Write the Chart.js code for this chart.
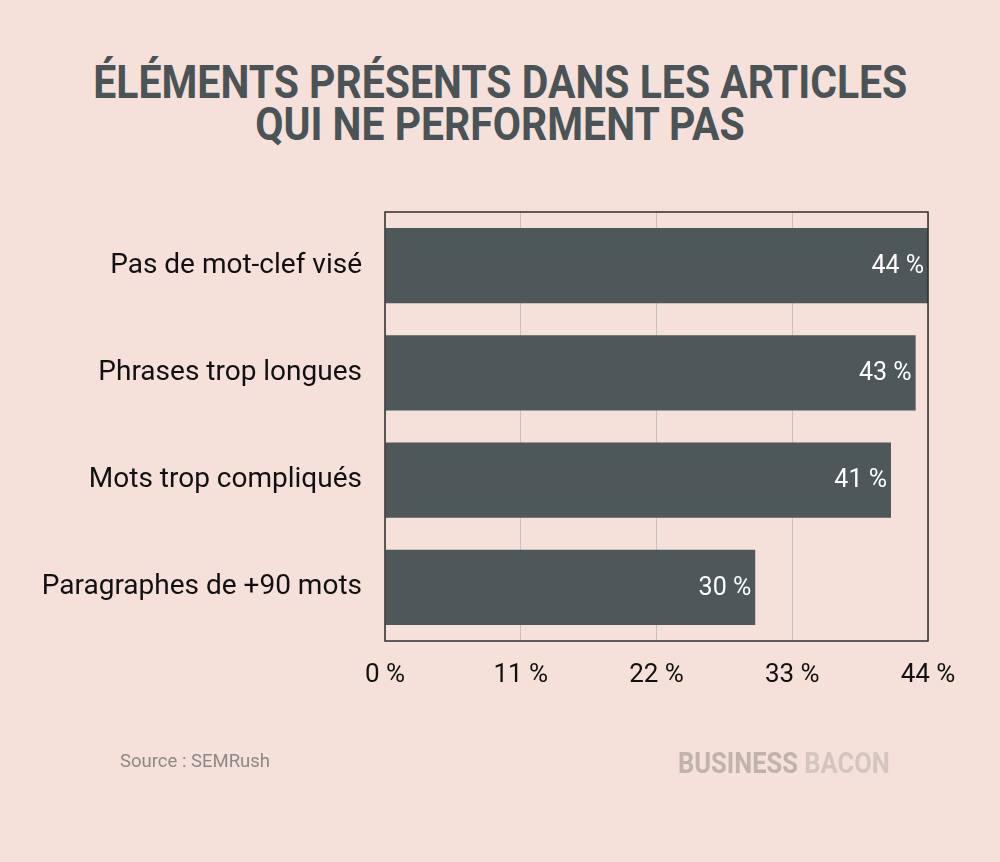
<!DOCTYPE html>
<html>
<head>
<meta charset="utf-8">
<script src="https://cdn.jsdelivr.net/npm/chart.js@4"></script>
<style>
    html, body { margin: 0; padding: 0; background: #F5E1DA; }
    #wrap { position: relative; width: 1000px; height: 862px; overflow: hidden; }
    #chart { position: absolute; left: 0; top: 0; }
    .title {
        position: absolute; left: 0; width: 1000px; text-align: center;
        font-family: Roboto, sans-serif; font-weight: 700; font-size: 46px;
        color: #4A5356; line-height: 1; white-space: nowrap;
    }
    .title span { display: inline-block; transform: scaleX(0.89); }
    .source {
        position: absolute; left: 120px; top: 750px;
        font-family: Roboto, sans-serif; font-size: 18.5px; color: #8C8986;
    }
    .brand {
        position: absolute; left: 678px; top: 745px;
        font-family: Roboto, sans-serif; font-weight: 700; font-size: 30px;
        white-space: nowrap; transform: scaleX(0.85); transform-origin: left top;
    }
</style>
</head>
<body>
<div id="wrap">
    <div class="title" style="top:59px"><span>ÉLÉMENTS PRÉSENTS DANS LES ARTICLES</span></div>
    <div class="title" style="top:101px"><span>QUI NE PERFORMENT PAS</span></div>
    <canvas id="chart" width="1000" height="862"></canvas>
    <div class="source">Source : SEMRush</div>
    <div class="brand"><span style="color:#C0B3AC">BUSINESS</span> <span style="color:#D4C6BF">BACON</span></div>
</div>
<script>
const categories = ['Pas de mot-clef visé', 'Phrases trop longues', 'Mots trop compliqués', 'Paragraphes de +90 mots'];
const values = [44, 43, 41, 30];
const tickValues = [0, 11, 22, 33, 44];

// valeurs blanches au bout des barres
const barLabels = {
    id: 'barLabels',
    afterDatasetsDraw(chart) {
        const ctx = chart.ctx;
        const meta = chart.getDatasetMeta(0);
        ctx.save();
        ctx.fillStyle = '#FFFFFF';
        ctx.font = '25px Roboto';
        ctx.textAlign = 'right';
        ctx.textBaseline = 'middle';
        meta.data.forEach(function (bar, i) {
            ctx.fillText(values[i] + ' %', bar.x - 4, bar.y + 1);
        });
        ctx.restore();
    }
};

// cadre autour de la zone du graphique
const frame = {
    id: 'frame',
    afterDraw(chart) {
        const a = chart.chartArea;
        const ctx = chart.ctx;
        ctx.save();
        ctx.strokeStyle = '#2E2E2E';
        ctx.lineWidth = 1.5;
        ctx.strokeRect(a.left, a.top, a.right - a.left, a.bottom - a.top);
        ctx.restore();
    }
};

new Chart(document.getElementById('chart'), {
    type: 'bar',
    plugins: [barLabels, frame],
    data: {
        labels: categories,
        datasets: [{
            data: values,
            backgroundColor: '#4E5759',
            barPercentage: 0.7,
            categoryPercentage: 1
        }]
    },
    options: {
        indexAxis: 'y',
        responsive: false,
        animation: false,
        layout: {
            padding: { top: 212, right: 72, bottom: 161, left: 0 }
        },
        plugins: {
            legend: { display: false },
            tooltip: { enabled: false }
        },
        scales: {
            x: {
                min: 0,
                max: 44,
                afterBuildTicks: function (scale) {
                    scale.ticks = tickValues.map(function (v) { return { value: v }; });
                },
                afterFit: function (scale) { scale.height = 60; },
                grid: { color: '#C9C1BD', lineWidth: 1, drawTicks: false },
                border: { display: false },
                ticks: {
                    padding: 19,
                    color: '#111111',
                    font: { family: 'Roboto', size: 26 },
                    callback: function (v) { return v + ' %'; }
                }
            },
            y: {
                afterFit: function (scale) { scale.width = 385; },
                grid: { display: false },
                border: { display: false },
                ticks: {
                    padding: 15,
                    color: '#111111',
                    font: { family: 'Roboto', size: 28 }
                }
            }
        }
    }
});
</script>
</body>
</html>
